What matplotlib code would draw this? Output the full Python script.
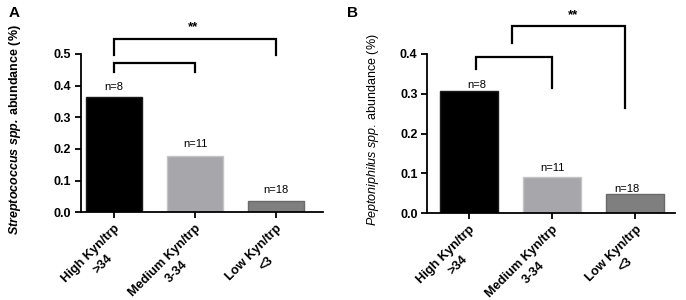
import matplotlib
matplotlib.use("Agg")
import numpy as np
import matplotlib.pyplot as plt
from matplotlib.textpath import TextPath
from matplotlib.font_manager import FontProperties

plt.rcParams['font.family'] = ['Liberation Sans', 'DejaVu Sans']
plt.rcParams['mathtext.fontset'] = 'custom'
plt.rcParams['mathtext.rm'] = 'Liberation Sans'
plt.rcParams['mathtext.it'] = 'Liberation Sans:italic'
plt.rcParams['mathtext.bf'] = 'Liberation Sans:bold'
plt.rcParams['mathtext.bfit'] = 'Liberation Sans:italic:bold'

# ---- data ----
categories = ["High Kyn/trp", "Medium Kyn/trp", "Low Kyn/trp"]
cat_ranges = [">34", "3-34", "<3"]
n_labels = ["n=8", "n=11", "n=18"]
strep_values = [0.365, 0.179, 0.035]
pepto_values = [0.306, 0.092, 0.049]
strep_yticks = [0.0, 0.1, 0.2, 0.3, 0.4, 0.5]
pepto_yticks = [0.0, 0.1, 0.2, 0.3, 0.4]
bar_colors = ["#000000", "#a7a7ab", "#7f7f7f"]
edge_colors = ["#1a1a1a", "#c4c4c4", "#6a6a6a"]

# brackets: (x_left, x_right, y_top, y_left_end, y_right_end)
strep_brackets = [(0, 2, 0.546, 0.497, 0.497), (0, 1, 0.472, 0.444, 0.444)]
pepto_brackets = [(0.09, 1.0, 0.393, 0.362, 0.315), (0.52, 1.88, 0.470, 0.427, 0.265)]
strep_star = (0.97, 0.585)
pepto_star = (1.25, 0.498)
strep_n_y = [0.395, 0.215, 0.072]
pepto_n_y = [0.322, 0.115, 0.062]
pepto_n_x = [0.1, 1.0, 1.9]

XFS = 9.2
TICKLEN = 4
PAD = 3

fig = plt.figure(figsize=(6.86, 3.0), dpi=100)
axA = fig.add_axes([81/686, 1-212.3/300, (323-81)/686, (212.3-54)/300])
axB = fig.add_axes([427.3/686, 1-213.3/300, (675-427.3)/686, (213.3-54)/300])

bold_prop = FontProperties(family='Liberation Sans', weight='bold', size=XFS)

def style(ax, yticks, xlim):
    x = list(range(len(categories)))
    ax.set_xlim(*xlim)
    ax.set_ylim(yticks[0], yticks[-1])
    ax.set_yticks(yticks)
    ax.set_yticklabels([f"{t:.1f}" for t in yticks], fontweight='bold', fontsize=9)
    ax.set_xticks(x)
    ax.set_xticklabels(categories, rotation=45, ha='right', rotation_mode='anchor',
                       fontweight='bold', fontsize=XFS)
    for s in ['top', 'right']:
        ax.spines[s].set_visible(False)
    for s in ['left', 'bottom']:
        ax.spines[s].set_linewidth(1.3)
    ax.tick_params(width=1.3, length=TICKLEN, direction='out', pad=PAD)
    # second line of each category label, centred under the first line
    c, s_ = np.cos(np.pi/4), np.sin(np.pi/4)
    for xi, first, second in zip(x, categories, cat_ranges):
        w1 = TextPath((0, 0), first, prop=bold_prop).get_extents().width
        xp, yp = -w1/2, -1.75*XFS
        dx = xp*c - yp*s_
        dy = xp*s_ + yp*c - (TICKLEN + PAD)
        ax.annotate(second, xy=(xi, 0), xycoords=('data', 'axes fraction'),
                    xytext=(dx, dy), textcoords='offset points', rotation=45,
                    rotation_mode='anchor', ha='center', va='center',
                    fontweight='bold', fontsize=XFS, annotation_clip=False)

def draw(ax, values, width, yticks, xlim, brackets, star, n_y, n_x):
    x = list(range(len(categories)))
    ax.bar(x, values, width=width, color=bar_colors, edgecolor=edge_colors, linewidth=1.0)
    style(ax, yticks, xlim)
    for xi, yi, lab in zip(n_x, n_y, n_labels):
        ax.text(xi, yi, lab, ha='center', va='center', fontsize=8)
    for (xl, xr, yt, yl, yr) in brackets:
        ax.plot([xl, xl, xr, xr], [yl, yt, yt, yr], color='black', lw=1.6,
                clip_on=False, solid_joinstyle='miter')
    ax.text(star[0], star[1], "**", ha='center', va='center', fontsize=9.5, fontweight='bold')

draw(axA, strep_values, 0.70, strep_yticks, (-0.407, 2.58), strep_brackets, strep_star,
     strep_n_y, [0, 1, 2])
draw(axB, pepto_values, 0.69, pepto_yticks, (-0.50, 2.48), pepto_brackets, pepto_star,
     pepto_n_y, pepto_n_x)

fig.text(15/686, 1-130/300, r"$\mathbfit{Streptococcus\ spp.}\:\mathbf{abundance\ (\%)}$",
         rotation=90, ha='center', va='center', fontsize=9)
fig.text(373/686, 1-130/300, r"$\mathit{Peptoniphilus\ spp.}\:\mathrm{abundance\ (\%)}$",
         rotation=90, ha='center', va='center', fontsize=9)

fig.text(14/686, 1-13/300, "A", fontsize=11, fontweight='bold', ha='center', va='center')
fig.text(352/686, 1-13/300, "B", fontsize=11, fontweight='bold', ha='center', va='center')

fig.savefig("out.png", dpi=100)
